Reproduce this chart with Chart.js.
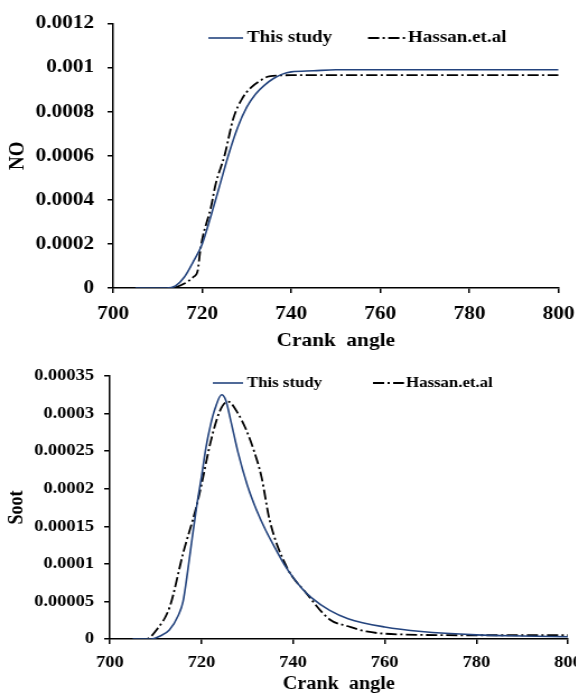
<!DOCTYPE html>
<html><head><meta charset="utf-8">
<script src="https://cdn.jsdelivr.net/npm/chart.js@4.4.0/dist/chart.umd.min.js"></script>
<style>
html,body{margin:0;padding:0;background:#fff;width:576px;height:695px;overflow:hidden;position:relative;}
.wrap{position:absolute;left:0;transform-origin:0 0;transform:scaleX(1.12);}
canvas{display:block;}
</style></head><body>
<div class="wrap" style="top:0px"><canvas id="c1" width="514" height="352"></canvas></div>
<div class="wrap" style="top:350px"><canvas id="c2" width="521" height="345"></canvas></div>
<script>
// ---- data ----
const seriesNames = ['This study', 'Hassan.et.al'];
const crankTicks = [700, 720, 740, 760, 780, 800];

const noTicks = [0, 0.0002, 0.0004, 0.0006, 0.0008, 0.001, 0.0012];
const noAngleStudy = [705, 712, 714, 716, 718, 720, 722, 724, 726, 728, 730, 732, 734, 736, 738, 740, 745, 750, 760, 780, 800];
const noStudy = [0, 0, 0.00001, 0.00005, 0.00012, 0.0002, 0.00033, 0.00047, 0.00061, 0.00073, 0.00082, 0.00088, 0.00092, 0.00095, 0.00097, 0.00098, 0.000985, 0.00099, 0.00099, 0.00099, 0.00099];
const noAngleHassan = [705, 713, 716, 718, 719, 719.5, 720, 722, 723, 725, 727, 729, 731, 733, 735, 740, 750, 760, 780, 800];
const noHassan = [0, 0, 0.00002, 0.00005, 0.00008, 0.00016, 0.00022, 0.00037, 0.00047, 0.0006, 0.00077, 0.00086, 0.00091, 0.00094, 0.00096, 0.000965, 0.000965, 0.000965, 0.000965, 0.000965];

const sootTicks = [0, 0.00005, 0.0001, 0.00015, 0.0002, 0.00025, 0.0003, 0.00035];
const sootAngleStudy = [705, 709, 711, 713, 715, 716, 717, 718, 719, 720, 721, 722, 723, 724.4, 725.3, 726.5, 728, 730, 732, 734, 736, 738, 740, 742, 744, 748, 752, 760, 768, 780, 790, 800];
const sootStudy = [0, 0, 0.000004, 0.000012, 0.000032, 0.00005, 0.00009, 0.000135, 0.000178, 0.000215, 0.000255, 0.000285, 0.000307, 0.000325, 0.000318, 0.000288, 0.000248, 0.000205, 0.000172, 0.000145, 0.000122, 0.0001, 0.000082, 0.000067, 0.000055, 0.000038, 0.000027, 0.000016, 0.00001, 0.0000055, 0.000004, 0.000003];
const sootAngleHassan = [705, 708, 710.2, 713.1, 716, 718.9, 720, 722, 724, 725.8, 728, 729.8, 731.5, 733.1, 734.9, 738.6, 742.9, 748, 752, 756, 764, 780, 800];
const sootHassan = [0, 0, 0.000012, 0.000043, 0.000114, 0.000176, 0.000205, 0.000262, 0.000303, 0.000316, 0.0003, 0.000278, 0.00025, 0.000216, 0.000158, 0.000096, 0.000061, 0.000026, 0.000017, 0.00001, 0.000006, 0.000005, 0.000005];

// ---- helpers ----
const FONT = "'Liberation Serif', 'Times New Roman', serif";
const BLUE = '#24447e';
function pts(xs, ys) { return xs.map((x, i) => ({x: x, y: ys[i]})); }
function fmt(v) { return parseFloat(Number(v).toFixed(6)).toString(); }

const legendPlugin = {
  id: 'customLegend',
  afterDraw(chart, args, opts) {
    const ctx = chart.ctx;
    ctx.save();
    chart.data.datasets.forEach((ds, i) => {
      const it = opts.items[i];
      ctx.beginPath();
      ctx.strokeStyle = ds.borderColor;
      ctx.lineWidth = ds.borderWidth;
      ctx.setLineDash(ds.borderDash || []);
      ctx.moveTo(it.x0, opts.y);
      ctx.lineTo(it.x1, opts.y);
      ctx.stroke();
      ctx.setLineDash([]);
      ctx.fillStyle = '#000';
      ctx.font = 'bold ' + opts.size + 'px ' + FONT;
      ctx.textBaseline = 'middle';
      ctx.textAlign = 'left';
      ctx.fillText(ds.label, it.tx, opts.y);
    });
    ctx.restore();
  }
};

function makeChart(id, cfg) {
  const tickFont = {family: FONT, weight: 'bold', size: cfg.tickSize};
  const titleFont = {family: FONT, weight: 'bold', size: cfg.titleSize};
  return new Chart(document.getElementById(id), {
    type: 'line',
    data: {
      datasets: [
        {label: seriesNames[0], data: pts(cfg.xs1, cfg.ys1), borderColor: BLUE, borderWidth: 1.6,
         pointRadius: 0, cubicInterpolationMode: 'monotone', fill: false},
        {label: seriesNames[1], data: pts(cfg.xs2, cfg.ys2), borderColor: '#000', borderWidth: 1.8,
         borderDash: [10, 3, 2, 3], pointRadius: 0, cubicInterpolationMode: 'monotone', fill: false}
      ]
    },
    options: {
      responsive: false, animation: false, devicePixelRatio: 1,
      layout: {padding: {left: 0, right: cfg.padRight, top: cfg.padTop, bottom: 0}},
      plugins: {legend: {display: false}, tooltip: {enabled: false},
        customLegend: cfg.legend},
      scales: {
        x: {
          type: 'linear', min: 700, max: 800,
          afterBuildTicks: s => { s.ticks = crankTicks.map(v => ({value: v})); },
          afterFit: s => { s.height = cfg.xHeight; s.paddingLeft = 0; s.paddingRight = 0; },
          grid: {display: true, drawOnChartArea: false, drawTicks: true, tickLength: 5, color: '#000', lineWidth: 1.5},
          border: {display: true, color: '#000', width: 1.5},
          ticks: {font: tickFont, color: '#000', padding: cfg.xPad, maxRotation: 0, autoSkip: false},
          title: {display: true, text: 'Crank  angle', font: titleFont, color: '#000', padding: {top: 0, bottom: 0}}
        },
        y: {
          type: 'linear', min: 0, max: cfg.yMax,
          afterBuildTicks: s => { s.ticks = cfg.yTicks.map(v => ({value: v})); },
          afterFit: s => { s.width = cfg.yWidth; },
          grid: {display: true, drawOnChartArea: false, drawTicks: true, tickLength: 5, color: '#000', lineWidth: 1.5},
          border: {display: true, color: '#000', width: 1.5},
          ticks: {font: tickFont, color: '#000', padding: cfg.yPad, callback: v => fmt(v), autoSkip: false},
          title: {display: true, text: cfg.yTitle, font: {family: FONT, weight: 'bold', size: cfg.yTitleSize}, color: '#000', padding: {top: 5, bottom: 0}}
        }
      }
    },
    plugins: [legendPlugin]
  });
}

makeChart('c1', {
  xs1: noAngleStudy, ys1: noStudy, xs2: noAngleHassan, ys2: noHassan,
  yMax: 0.0012, yTicks: noTicks, yTitle: 'NO', yTitleSize: 19,
  tickSize: 19, titleSize: 19, padRight: 15.3, padTop: 20,
  xHeight: 64, yWidth: 101, xPad: 10, yPad: 12,
  legend: {y: 38, size: 17, items: [{x0: 186, x1: 217, tx: 220.5}, {x0: 328.6, x1: 362.5, tx: 364.3}]}
});

makeChart('c2', {
  xs1: sootAngleStudy, ys1: sootStudy, xs2: sootAngleHassan, ys2: sootHassan,
  yMax: 0.00035, yTicks: sootTicks, yTitle: 'Soot', yTitleSize: 18,
  tickSize: 16.5, titleSize: 18, padRight: 13.9, padTop: 26,
  xHeight: 56, yWidth: 98, xPad: 9, yPad: 9,
  legend: {y: 33, size: 15, items: [{x0: 190, x1: 217, tx: 220.5}, {x0: 333, x1: 360.7, tx: 362.5}]}
});
</script>
</body></html>
